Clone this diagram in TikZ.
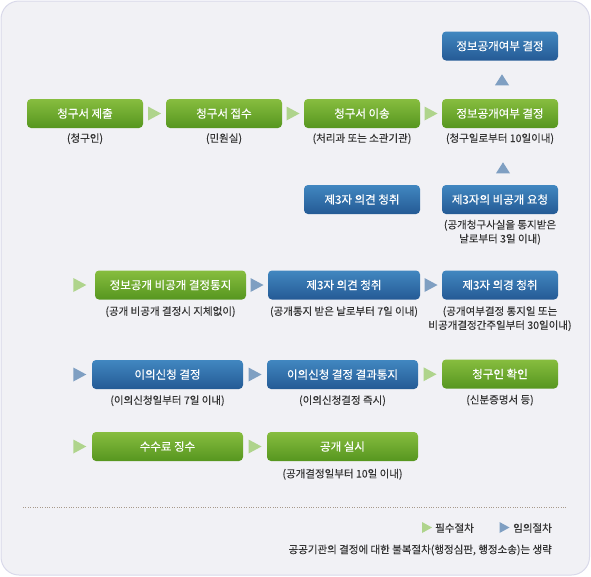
\documentclass[tikz,border=0pt]{standalone}
\usepackage{fontspec}
\setmainfont{Noto Sans CJK KR}
\newfontfamily\boxfont{Noto Sans CJK KR}[FakeBold=0.35]
\newfontfamily\subfont{Noto Sans CJK KR}[FakeBold=0.12]
\usetikzlibrary{calc}
\definecolor{bgfill}{HTML}{F1F1F5}
\definecolor{bgline}{HTML}{D9D9EA}
\definecolor{gtop}{HTML}{87BD3F}
\definecolor{gbot}{HTML}{56961F}
\definecolor{btop}{HTML}{4187C0}
\definecolor{bbot}{HTML}{245A95}
\definecolor{garr}{HTML}{AFD48C}
\definecolor{barr}{HTML}{7F9FC2}
\definecolor{subc}{HTML}{333333}
\definecolor{dotc}{HTML}{A89A8C}
\tikzset{
  box/.style={minimum height=29pt, inner sep=0pt, rounded corners=4pt, text=white,
    font=\boxfont\fontsize{11.5}{13}\selectfont},
  gbox/.style={box, top color=gtop, bottom color=gbot},
  bbox/.style={box, top color=btop, bottom color=bbot},
  sub/.style={inner sep=0pt, text=subc, align=center, font=\subfont\fontsize{10.5}{14}\selectfont},
  rarr/.pic={\path[pic actions] (-6.5,-7) -- (6.5,0) -- (-6.5,7) -- cycle;},
  uarr/.pic={\path[pic actions] (-7,5.5) -- (0,-5.5) -- (7,5.5) -- cycle;},
  sarr/.pic={\path[pic actions] (-5,-5.5) -- (5,0) -- (-5,5.5) -- cycle;},
}
\begin{document}
\begin{tikzpicture}[x=1pt,y=-1pt]
\useasboundingbox (0,0) rectangle (591,576);
\draw[draw=bgline, fill=bgfill, rounded corners=18pt, line width=1pt] (1,1) rectangle (589.5,575);

% row 0
\node[bbox, minimum width=116pt] (top) at (500,46) {정보공개여부 결정};
% row 1
\node[gbox, minimum width=116pt] (a1) at (85,113.5) {청구서 제출};
\node[gbox, minimum width=116pt] (a2) at (224,113.5) {청구서 접수};
\node[gbox, minimum width=116pt] (a3) at (362,113.5) {청구서 이송};
\node[gbox, minimum width=116pt] (a4) at (500,113.5) {정보공개여부 결정};
% row 2
\node[bbox, minimum width=116pt] (b1) at (362,199.5) {제3자 의견 청취};
\node[bbox, minimum width=116pt] (b2) at (500,199.5) {제3자의 비공개 요청};
% row 3
\node[gbox, minimum width=151pt] (c1) at (170.5,285) {정보공개 비공개 결정통지};
\node[bbox, minimum width=152pt] (c2) at (344,285) {제3자 의견 청취};
\node[bbox, minimum width=116pt] (c3) at (500,285) {제3자 의경 청취};
% row 4
\node[bbox, minimum width=151pt] (d1) at (167.5,374.5) {이의신청 결정};
\node[bbox, minimum width=151pt] (d2) at (342.5,374.5) {이의신청 결정 결과통지};
\node[gbox, minimum width=116pt] (d3) at (500,374) {청구인 확인};
% row 5
\node[gbox, minimum width=151pt] (e1) at (167.5,446.5) {수수료 징수};
\node[gbox, minimum width=151pt] (e2) at (342.5,446.5) {공개 실시};

% sub labels
\node[sub] (a1s) at ($(a1.south)+(0,10.5)$) {(청구인)};
\node[sub] (a2s) at ($(a2.south)+(0,10.5)$) {(민원실)};
\node[sub] (a3s) at ($(a3.south)+(0,10.5)$) {(처리과 또는 소관기관)};
\node[sub] (a4s) at ($(a4.south)+(0,10.5)$) {(청구일로부터 10일이내)};
\node[sub] (b2s) at ($(b2.south)+(0,18)$) {(공개청구사실을 통지받은\\날로부터 3일 이내)};
\node[sub] (c1s) at ($(c1.south)+(0,12)$) {(공개 비공개 결정시 지체없이)};
\node[sub] (c2s) at ($(c2.south)+(0,12)$) {(공개통지 받은 날로부터 7일 이내)};
\node[sub] (c3s) at ($(c3.south)+(0,19)$) {(공개여부결정 통지일 또는\\비공개결정간주일부터 30일이내)};
\node[sub] (d1s) at ($(d1.south)+(0,11.5)$) {(이의신청일부터 7일 이내)};
\node[sub] (d2s) at ($(d2.south)+(0,11.5)$) {(이의신청결정 즉시)};
\node[sub] (d3s) at ($(d3.south)+(0,11.5)$) {(신분증명서 등)};
\node[sub] (e2s) at ($(e2.south)+(0,13)$) {(공개결정일부터 10일 이내)};

% arrows
\pic[fill=garr] at ($(a1.east)!0.5!(a2.west)$) {rarr};
\pic[fill=garr] at ($(a2.east)!0.5!(a3.west)$) {rarr};
\pic[fill=garr] at ($(a3.east)!0.5!(a4.west)$) {rarr};
\pic[fill=barr] at ($(top.south)!0.5!(a4.north)+(2,0)$) {uarr};
\pic[fill=barr] at ($(b2.north)+(3,-17)$) {uarr};
\pic[fill=garr] at ($(c1.west)+(-15,0)$) {rarr};
\pic[fill=barr] at ($(c1.east)!0.5!(c2.west)$) {rarr};
\pic[fill=barr] at ($(c2.east)!0.5!(c3.west)$) {rarr};
\pic[fill=barr] at ($(d1.west)+(-12,0)$) {rarr};
\pic[fill=barr] at ($(d1.east)!0.5!(d2.west)$) {rarr};
\pic[fill=garr] at ($(d2.east)!0.5!(d3.west)$) {rarr};
\pic[fill=garr] at ($(e1.west)+(-12,0)$) {rarr};
\pic[fill=garr] at ($(e1.east)!0.5!(e2.west)$) {rarr};

% footer
\draw[dotc, line width=0.8pt, dash pattern=on 0.8pt off 1.6pt] (23,507) -- (567,507);
\pic[fill=garr] at (427,527.5) {sarr};
\node[sub, anchor=west] (l1) at (435,528) {필수절차};
\pic[fill=barr] at (504.5,527.5) {sarr};
\node[sub, anchor=west] (l2) at (513,528) {임의절차};
\node[sub, anchor=east] (note) at (552,550) {공공기관의 결정에 대한 불복절차(행정심판, 행정소송)는 생략};
\end{tikzpicture}
\end{document}
